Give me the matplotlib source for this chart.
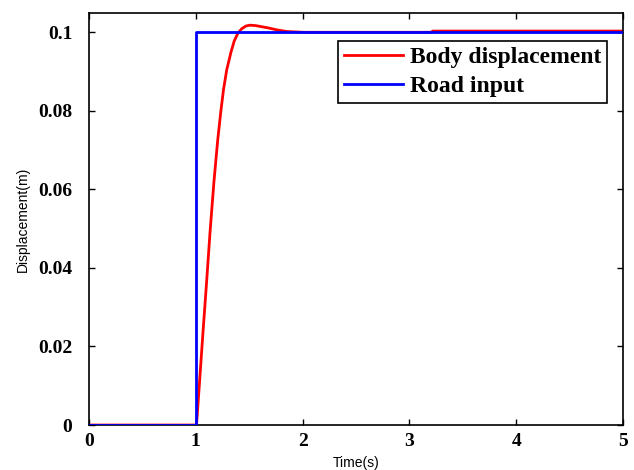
import numpy as np
import matplotlib.pyplot as plt

# road step input
road_t = [0, 1, 1, 5]
road_y = [0, 0, 0.1, 0.1]

# body displacement response
body_t = [0, 1.0, 1.008, 1.03, 1.067, 1.10, 1.133, 1.17, 1.205, 1.235, 1.26, 1.29, 1.33, 1.36,
          1.395, 1.43, 1.47, 1.507, 1.56, 1.62, 1.68, 1.76, 1.85, 2.0, 3.2, 3.22, 5.0]
body_y = [0, 0, 0.0005, 0.009, 0.0235, 0.036, 0.049, 0.062, 0.0725, 0.080, 0.0855, 0.0905, 0.0950, 0.0978,
          0.0998, 0.1009, 0.1016, 0.1018, 0.1017, 0.1014, 0.1011, 0.1006, 0.1002, 0.1000, 0.1000, 0.1003, 0.1003]

xticks = [0, 1, 2, 3, 4, 5]
yticks = [0, 0.02, 0.04, 0.06, 0.08, 0.1]
ytick_labels = ['0', '0.02', '0.04', '0.06', '0.08', '0.1']

fig = plt.figure(figsize=(6.34, 4.70), dpi=100)
ax = fig.add_axes([0.1404, 0.0957, 0.8422, 0.8766])

l1, = ax.plot(body_t, body_y, color='red', lw=2, label='Body displacement', zorder=2)
l2, = ax.plot(road_t, road_y, color='blue', lw=2, label='Road input', zorder=3)

ax.set_xlim(0, 5)
ax.set_ylim(0, 0.1049)
ax.set_xticks(xticks)
ax.set_yticks(yticks)
ax.set_yticklabels(ytick_labels)

tickfont = dict(family='Liberation Serif', weight='bold', size=14)
for lab in ax.get_xticklabels() + ax.get_yticklabels():
    lab.set_fontproperties(tickfont)
ax.tick_params(direction='in', length=4, width=1, top=True, right=True)
ax.tick_params(axis='y', pad=12)
ax.tick_params(axis='x', pad=6)

for s in ax.spines.values():
    s.set_linewidth(1.2)

ax.set_xlabel('Time(s)', family='Liberation Sans', fontsize=10, labelpad=4)
ax.set_ylabel('Displacement(m)', family='Liberation Sans', fontsize=10, labelpad=6)

leg = ax.legend(handles=[l1, l2], loc='upper right', bbox_to_anchor=(0.970, 0.932),
                borderaxespad=0, fancybox=False, framealpha=1, edgecolor='black',
                prop=dict(family='Liberation Serif', weight='bold', size=17),
                handlelength=2.5, handletextpad=0.3, labelspacing=0.3, borderpad=0.25)
leg.get_frame().set_linewidth(1.2)

fig.savefig('out.png', dpi=100)
